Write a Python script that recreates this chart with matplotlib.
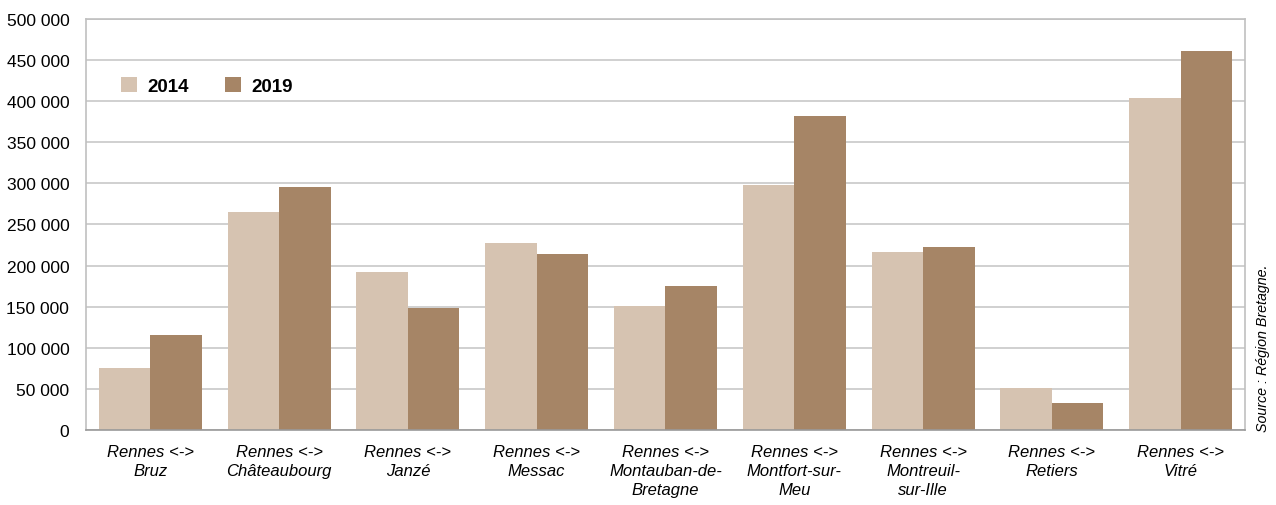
import numpy as np
import matplotlib
matplotlib.use("Agg")
import matplotlib.pyplot as plt
from matplotlib.ticker import FuncFormatter

plt.rcParams['font.family'] = ['Liberation Sans', 'DejaVu Sans']

# data
routes = ["Rennes <->\nBruz", "Rennes <->\nChâteaubourg", "Rennes <->\nJanzé",
          "Rennes <->\nMessac", "Rennes <->\nMontauban-de-\nBretagne",
          "Rennes <->\nMontfort-sur-\nMeu", "Rennes <->\nMontreuil-\nsur-Ille",
          "Rennes <->\nRetiers", "Rennes <->\nVitré"]
v2014 = [75500, 265500, 192500, 227500, 151000, 298500, 216500, 51000, 404000]
v2019 = [115800, 295500, 148500, 214500, 175500, 382000, 222500, 32500, 461000]
years = ["2014", "2019"]
colors = ["#D6C3B1", "#A68566"]

fig = plt.figure(figsize=(12.76, 5.06), dpi=100)
ax = fig.add_axes([0.0674, 0.1482, 0.9083, 0.8123])

x = np.arange(len(routes))
w = 0.4
ax.bar(x - w / 2, v2014, w, color=colors[0], label=years[0], zorder=2)
ax.bar(x + w / 2, v2019, w, color=colors[1], label=years[1], zorder=2)

ax.set_xlim(-0.5, len(routes) - 0.5)
ax.set_ylim(0, 500000)
ax.set_yticks(np.arange(0, 500001, 50000))
ax.yaxis.set_major_formatter(FuncFormatter(lambda v, p: f"{int(v):,}".replace(",", " ")))
ax.grid(axis='y', color='#c8c8c8', linewidth=1.2, zorder=0)
ax.set_axisbelow(True)

ax.set_xticks(x)
ax.set_xticklabels(routes, fontstyle='italic', fontsize=12, linespacing=1.35)
ax.tick_params(axis='y', length=0, labelsize=12.5, colors='black', pad=12)
ax.tick_params(axis='x', length=0, colors='black', pad=10)

for s in ['left', 'top', 'right']:
    ax.spines[s].set_color('#c0c0c0')
    ax.spines[s].set_linewidth(1.2)
ax.spines['bottom'].set_color('#999999')
ax.spines['bottom'].set_linewidth(1.2)

leg = ax.legend(loc='upper left', bbox_to_anchor=(0.024, 0.878), ncol=2, frameon=False,
                prop={'weight': 'bold', 'size': 13.5}, handlelength=0.85, handleheight=0.85,
                columnspacing=1.9, handletextpad=0.55, borderaxespad=0)

fig.text(0.990, 0.147, "Source : Région Bretagne.", rotation=90, fontstyle='italic',
         fontsize=10.3, ha='center', va='bottom')

fig.savefig("out.png", dpi=100)
